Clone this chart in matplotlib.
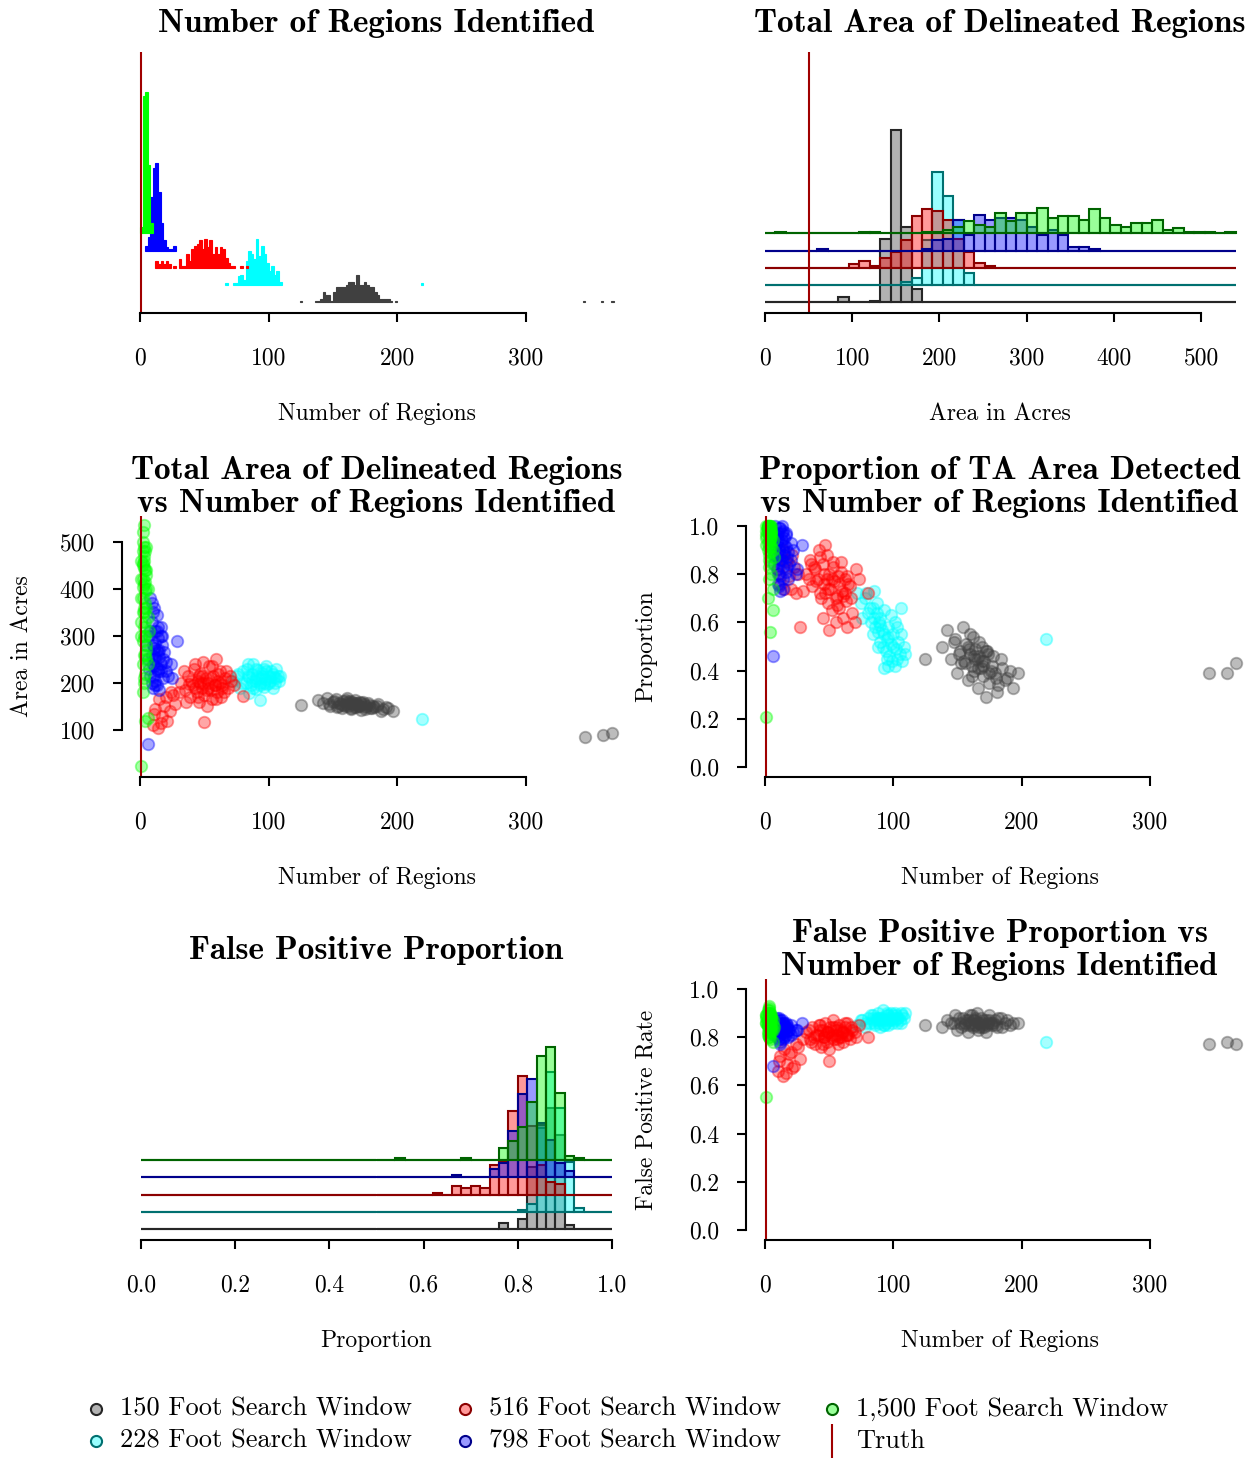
import numpy as np
import matplotlib
matplotlib.use("Agg")
import matplotlib.pyplot as plt
from matplotlib.lines import Line2D
from matplotlib.colors import to_rgba

plt.rcParams['font.family'] = 'cmr10'
plt.rcParams['axes.formatter.use_mathtext'] = True

# ---------------- data ----------------
windows = ["150 Foot Search Window", "228 Foot Search Window", "516 Foot Search Window",
           "798 Foot Search Window", "1,500 Foot Search Window"]
truth_n = 1
truth_area = 50

# histogram of number of regions (bin width 2, bin start -> count)
nreg_gray_bins = [124, 136, 138, 140, 142, 144, 146, 148, 150, 152, 154, 156, 158, 160, 162, 164, 166,
                  168, 170, 172, 174, 176, 178, 180, 182, 184, 186, 188, 190, 192, 194, 198, 344, 358, 366]
nreg_gray_counts = [1, 1, 1, 2, 6, 4, 4, 1, 6, 9, 9, 9, 9, 10, 12, 12, 10,
                    16, 10, 10, 12, 10, 9, 9, 6, 4, 2, 2, 2, 2, 1, 1, 1, 1, 1]
nreg_cyan_bins = [66, 72, 74, 76, 78, 80, 82, 84, 86, 88, 90, 92, 94, 96, 98, 100, 102, 104, 106, 108, 218]
nreg_cyan_counts = [1, 1, 1, 5, 6, 3, 14, 20, 18, 15, 27, 17, 23, 18, 13, 8, 11, 6, 8, 2, 1]
nreg_red_bins = [12, 14, 16, 18, 20, 22, 26, 30, 32, 34, 36, 38, 40, 42, 44, 46, 48, 50, 52, 54, 56,
                 58, 60, 62, 64, 66, 68, 70, 72, 78, 82]
nreg_red_counts = [4, 2, 4, 2, 4, 2, 1, 5, 1, 1, 8, 4, 11, 13, 14, 16, 11, 17, 12, 16, 8,
                   12, 8, 12, 11, 6, 3, 1, 1, 1, 1]
nreg_blue_bins = [4, 6, 8, 10, 12, 14, 16, 18, 20, 22, 24, 26]
nreg_blue_counts = [3, 8, 31, 48, 51, 34, 16, 6, 2, 1, 1, 3]
nreg_green_bins = [0, 2, 4, 6, 8]
nreg_green_counts = [4, 80, 82, 40, 6]

# histogram of total area (45 bins of 12 acres from 0)
area_gray = [0, 0, 0, 0, 0, 0, 0, 3, 0, 0, 1, 37, 100, 44, 8, 0, 0, 0, 0, 0, 0, 0, 0, 0, 0, 0, 0, 0, 0, 0,
             0, 0, 0, 0, 0, 0, 0, 0, 0, 0, 0, 0, 0, 0, 0]
area_cyan = [0, 0, 0, 0, 0, 0, 0, 0, 0, 0, 0, 0, 0, 2, 4, 26, 66, 52, 38, 7, 0, 0, 0, 0, 0, 0, 0, 0, 0, 0,
             0, 0, 0, 0, 0, 0, 0, 0, 0, 0, 0, 0, 0, 0, 0]
area_red = [0, 0, 0, 0, 0, 0, 0, 0, 2, 4, 1, 6, 9, 16, 30, 34, 33, 28, 17, 9, 3, 1, 0, 0, 0, 0, 0, 0, 0, 0,
            0, 0, 0, 0, 0, 0, 0, 0, 0, 0, 0, 0, 0, 0, 0]
area_blue = [0, 0, 0, 0, 0, 1, 0, 0, 0, 0, 0, 0, 0, 0, 0, 1, 6, 7, 18, 9, 21, 18, 19, 19, 18, 14, 9, 12, 9, 2,
             2, 1, 0, 0, 0, 0, 0, 0, 0, 0, 0, 0, 0, 0, 0]
area_green = [0, 1, 0, 0, 0, 0, 0, 0, 0, 1, 1, 0, 0, 0, 0, 1, 1, 2, 4, 7, 5, 4, 12, 7, 12, 12, 15, 9, 10, 10,
              8, 14, 9, 5, 4, 6, 6, 8, 2, 3, 1, 1, 1, 0, 1]

# histogram of false positive proportion (50 bins of 0.02 from 0)
fp_gray = [0, 0, 0, 0, 0, 0, 0, 0, 0, 0, 0, 0, 0, 0, 0, 0, 0, 0, 0, 0, 0, 0, 0, 0, 0,
           0, 0, 0, 0, 0, 0, 0, 0, 0, 0, 0, 0, 0, 3, 0, 5, 30, 50, 58, 45, 2, 0, 0, 0, 0]
fp_cyan = [0, 0, 0, 0, 0, 0, 0, 0, 0, 0, 0, 0, 0, 0, 0, 0, 0, 0, 0, 0, 0, 0, 0, 0, 0,
           0, 0, 0, 0, 0, 0, 0, 0, 0, 0, 0, 0, 0, 0, 0, 1, 4, 40, 67, 50, 24, 2, 0, 0, 0]
fp_red = [0, 0, 0, 0, 0, 0, 0, 0, 0, 0, 0, 0, 0, 0, 0, 0, 0, 0, 0, 0, 0, 0, 0, 0, 0,
          0, 0, 0, 0, 0, 0, 1, 0, 4, 3, 4, 3, 14, 16, 40, 57, 33, 14, 6, 5, 0, 0, 0, 0, 0]
fp_blue = [0, 0, 0, 0, 0, 0, 0, 0, 0, 0, 0, 0, 0, 0, 0, 0, 0, 0, 0, 0, 0, 0, 0, 0, 0,
           0, 0, 0, 0, 0, 0, 0, 0, 1, 0, 0, 0, 4, 7, 22, 40, 47, 26, 18, 7, 3, 0, 0, 0, 0]
fp_green = [0, 0, 0, 0, 0, 0, 0, 0, 0, 0, 0, 0, 0, 0, 0, 0, 0, 0, 0, 0, 0, 0, 0, 0, 0,
            0, 0, 1, 0, 0, 0, 0, 0, 0, 1, 0, 0, 0, 6, 9, 16, 28, 50, 54, 32, 2, 1, 0, 0, 0]

# per-run results: number of regions, total area, proportion detected, false positive rate
gray_n = [138, 142, 145, 148, 150, 152, 154, 155, 157, 158, 160, 161, 162, 163, 164, 165, 166, 167, 168, 169,
          170, 171, 172, 174, 175, 177, 179, 181, 184, 187, 191, 197, 125, 346, 360, 367,
          156, 159, 163, 166, 169, 172, 176, 180,
          147, 151, 153, 158, 161, 164, 167, 170, 173, 175, 178, 182, 185, 189, 193, 160]
gray_area = [163, 158, 168, 152, 160, 165, 150, 158, 147, 162, 155, 168, 150, 158, 145, 160, 153, 164, 148, 157,
             151, 160, 143, 155, 149, 158, 146, 152, 150, 141, 148, 140, 153, 86, 89, 93,
             155, 152, 161, 149, 154, 157, 151, 147,
             156, 162, 149, 153, 159, 146, 158, 152, 160, 145, 154, 148, 155, 144, 147, 164]
gray_prop = [0.50, 0.57, 0.45, 0.53, 0.39, 0.48, 0.58, 0.44, 0.51, 0.36, 0.47, 0.42, 0.54, 0.40, 0.49, 0.45,
             0.33, 0.46, 0.41, 0.50, 0.38, 0.44, 0.29, 0.47, 0.35, 0.42, 0.39, 0.31, 0.45, 0.36, 0.40, 0.39,
             0.45, 0.39, 0.39, 0.43, 0.43, 0.49, 0.46, 0.41, 0.44, 0.48, 0.40, 0.37,
             0.52, 0.47, 0.43, 0.50, 0.38, 0.45, 0.52, 0.42, 0.48, 0.39, 0.46, 0.34, 0.41, 0.37, 0.33, 0.55]
gray_fp = [0.84, 0.87, 0.86, 0.89, 0.83, 0.86, 0.88, 0.85, 0.87, 0.82, 0.86, 0.89, 0.84, 0.87, 0.85, 0.90,
           0.83, 0.86, 0.88, 0.85, 0.87, 0.84, 0.82, 0.86, 0.89, 0.85, 0.87, 0.84, 0.88, 0.86, 0.85, 0.86,
           0.85, 0.77, 0.78, 0.77, 0.86, 0.85, 0.87, 0.86, 0.84, 0.87, 0.86, 0.85,
           0.86, 0.88, 0.84, 0.87, 0.85, 0.88, 0.84, 0.86, 0.85, 0.87, 0.86, 0.88, 0.84, 0.87, 0.86, 0.89]

cyan_n = [72, 75, 78, 80, 82, 83, 85, 86, 87, 88, 89, 90, 91, 92, 93, 94, 95, 96, 97, 98,
          99, 100, 101, 102, 103, 104, 105, 106, 107, 108, 93, 85, 90, 96, 219,
          76, 79, 84, 87, 90, 93, 95, 98, 100, 103, 106, 109, 88, 96, 101, 84]
cyan_area = [205, 215, 190, 225, 200, 230, 212, 195, 220, 240, 205, 188, 215, 228, 200, 210, 222, 192, 208, 235,
             198, 215, 205, 225, 190, 212, 200, 230, 215, 205, 163, 178, 210, 200, 124,
             220, 200, 215, 205, 230, 195, 215, 225, 200, 220, 210, 215, 190, 230, 212, 240]
cyan_prop = [0.72, 0.68, 0.70, 0.64, 0.66, 0.60, 0.62, 0.58, 0.64, 0.56, 0.60, 0.52, 0.57, 0.50, 0.55, 0.48,
             0.53, 0.58, 0.46, 0.51, 0.44, 0.55, 0.42, 0.49, 0.45, 0.52, 0.47, 0.66, 0.44, 0.50,
             0.41, 0.73, 0.59, 0.54, 0.53,
             0.62, 0.72, 0.55, 0.68, 0.62, 0.65, 0.45, 0.63, 0.50, 0.58, 0.55, 0.47, 0.50, 0.42, 0.60, 0.66]
cyan_fp = [0.85, 0.87, 0.84, 0.88, 0.86, 0.89, 0.87, 0.85, 0.88, 0.90, 0.86, 0.84, 0.88, 0.91, 0.87, 0.86,
           0.89, 0.85, 0.87, 0.90, 0.86, 0.88, 0.87, 0.89, 0.86, 0.88, 0.87, 0.90, 0.89, 0.88,
           0.85, 0.86, 0.87, 0.88, 0.78,
           0.87, 0.86, 0.89, 0.87, 0.88, 0.85, 0.90, 0.87, 0.89, 0.88, 0.86, 0.90, 0.88, 0.89, 0.90, 0.88]

red_n = [32, 35, 37, 39, 41, 42, 44, 45, 46, 47, 48, 49, 50, 51, 52, 53, 54, 55, 56, 57,
         58, 59, 60, 61, 62, 63, 64, 66, 68, 71, 10, 12, 14, 15, 17, 19, 21, 24, 27, 50, 80,
         40, 43, 46, 49, 52, 55, 58, 61, 64, 38,
         30, 34, 36, 43, 45, 48, 53, 56, 59, 62, 65, 67, 70, 73, 11, 16, 20, 23, 26, 47]
red_area = [200, 185, 215, 170, 195, 230, 180, 205, 160, 220, 190, 245, 175, 210, 150, 200, 235, 185, 165, 215,
            195, 250, 180, 205, 225, 170, 195, 210, 190, 205, 110, 145, 105, 165, 130, 150, 120, 180, 155, 118,
            172, 205, 190, 215, 200, 185, 210, 195, 220, 190, 198,
            180, 225, 160, 240, 170, 215, 190, 235, 165, 200, 180, 225, 215, 195, 135, 115, 170, 140, 175, 200]
red_prop = [0.80, 0.86, 0.75, 0.82, 0.78, 0.90, 0.70, 0.84, 0.76, 0.72, 0.88, 0.68, 0.80, 0.74, 0.65, 0.83,
            0.77, 0.60, 0.71, 0.79, 0.66, 0.85, 0.73, 0.62, 0.78, 0.69, 0.58, 0.75, 0.64, 0.82,
            0.82, 0.76, 0.90, 0.74, 0.85, 0.79, 0.88, 0.72, 0.58, 0.57, 0.72,
            0.77, 0.72, 0.80, 0.74, 0.78, 0.70, 0.76, 0.71, 0.79, 0.83,
            0.73, 0.78, 0.84, 0.87, 0.62, 0.78, 0.85, 0.67, 0.81, 0.72, 0.76, 0.70, 0.60, 0.78,
            0.80, 0.86, 0.74, 0.83, 0.80, 0.92]
red_fp = [0.82, 0.79, 0.84, 0.77, 0.81, 0.85, 0.76, 0.83, 0.80, 0.86, 0.78, 0.82, 0.75, 0.84, 0.80, 0.87,
          0.79, 0.83, 0.81, 0.77, 0.85, 0.80, 0.82, 0.78, 0.84, 0.81, 0.86, 0.79, 0.83, 0.80,
          0.66, 0.72, 0.64, 0.75, 0.69, 0.73, 0.67, 0.77, 0.71, 0.70, 0.80,
          0.81, 0.83, 0.80, 0.82, 0.81, 0.84, 0.80, 0.82, 0.81, 0.80,
          0.79, 0.83, 0.78, 0.85, 0.77, 0.82, 0.84, 0.79, 0.83, 0.86, 0.81, 0.84, 0.82, 0.85,
          0.70, 0.65, 0.74, 0.68, 0.76, 0.81]

blue_n = [6, 7, 8, 9, 9, 10, 10, 11, 11, 12, 12, 13, 13, 14, 14, 15, 15, 16, 16, 17,
          18, 19, 20, 22, 25, 29, 8, 12, 15, 6, 10, 12, 13, 11, 14, 16,
          5, 7, 8, 9, 10, 11, 12, 13, 14, 15, 16, 17, 18, 9, 11, 13, 20, 24]
blue_area = [250, 300, 215, 330, 260, 190, 280, 360, 235, 310, 205, 270, 345, 225, 295, 185, 255, 320, 240, 280,
             210, 265, 245, 215, 210, 290, 380, 195, 230, 70, 240, 255, 230, 275, 265, 300,
             280, 230, 310, 200, 350, 215, 285, 195, 320, 270, 225, 300, 250, 370, 250, 310, 225, 240]
blue_prop = [0.95, 0.88, 1.00, 0.82, 0.93, 0.76, 0.97, 0.85, 0.90, 0.99, 0.79, 0.92, 0.86, 0.98, 0.74, 0.89,
             0.95, 0.81, 0.91, 0.87, 0.78, 0.84, 0.93, 0.90, 0.82, 0.92, 0.96, 0.73, 0.88, 0.46,
             0.94, 0.86, 0.97, 0.91, 0.83, 0.96,
             0.98, 0.84, 0.92, 0.96, 0.80, 0.99, 0.88, 0.94, 0.78, 0.92, 0.97, 0.83, 0.89, 0.87, 0.75, 1.00,
             0.86, 0.80]
blue_fp = [0.84, 0.86, 0.82, 0.87, 0.80, 0.85, 0.83, 0.88, 0.81, 0.86, 0.78, 0.84, 0.87, 0.82, 0.79, 0.85,
           0.83, 0.86, 0.81, 0.84, 0.80, 0.83, 0.85, 0.82, 0.83, 0.86, 0.84, 0.77, 0.80, 0.68,
           0.83, 0.85, 0.84, 0.82, 0.86, 0.84,
           0.85, 0.81, 0.84, 0.86, 0.82, 0.85, 0.87, 0.80, 0.84, 0.86, 0.82, 0.85, 0.83, 0.88, 0.79, 0.84,
           0.81, 0.83]

green_n = [1, 1, 2, 2, 2, 2, 3, 3, 3, 3, 3, 4, 4, 4, 4, 5, 5, 5, 6, 6,
           7, 2, 3, 4, 1, 4, 6, 3, 5, 2, 2, 3, 4, 3, 2, 5,
           1, 2, 3, 4, 5, 1, 2, 3, 4, 5, 6, 2, 3, 1, 4, 3, 2, 5]
green_area = [420, 330, 500, 380, 290, 455, 536, 410, 350, 260, 470, 440, 300, 395, 220, 360, 430, 270, 340, 240,
              310, 180, 490, 370, 23, 120, 125, 210, 400, 450, 480, 320, 415, 460, 350, 280,
              380, 420, 300, 480, 250, 460, 240, 445, 330, 490, 400, 520, 360, 300, 260, 200, 405, 440]
green_prop = [0.98, 0.95, 1.00, 0.90, 0.99, 0.93, 1.00, 0.96, 0.88, 0.97, 0.99, 0.94, 0.85, 1.00, 0.92, 0.96,
              0.80, 0.98, 0.90, 0.74, 0.87, 0.70, 0.97, 0.99, 0.21, 0.56, 0.65, 0.78, 0.95, 1.00,
              1.00, 0.98, 0.97, 0.94, 0.99, 0.91,
              1.00, 0.97, 0.99, 0.95, 1.00, 0.92, 0.98, 0.86, 1.00, 0.97, 0.94, 0.99, 0.91, 0.96, 0.89, 0.83,
              1.00, 0.98]
green_fp = [0.86, 0.89, 0.84, 0.91, 0.82, 0.88, 0.85, 0.90, 0.87, 0.80, 0.93, 0.86, 0.83, 0.89, 0.79, 0.88,
            0.85, 0.82, 0.87, 0.78, 0.84, 0.81, 0.90, 0.86, 0.55, 0.84, 0.83, 0.80, 0.88, 0.85,
            0.87, 0.85, 0.90, 0.86, 0.88, 0.83,
            0.88, 0.85, 0.91, 0.87, 0.84, 0.89, 0.86, 0.92, 0.83, 0.87, 0.85, 0.90, 0.82, 0.86, 0.88, 0.84,
            0.87, 0.89]

# ---------------- styling ----------------
base = ['#404040', '#00FFFF', '#FF0000', '#0000FF', '#00FF00']
edge = ['#262626', '#007070', '#8B0000', '#00008B', '#006400']
truth_col = '#A00000'

W, H = 1253, 1458
fig = plt.figure(figsize=(W / 100, H / 100), dpi=100)


def add_ax(x0, y0, x1, y1):
    return fig.add_axes([x0 / W, 1 - y1 / H, (x1 - x0) / W, (y1 - y0) / H])


def r_axes(ax, xt, xl, yt=None, yl=None):
    ax.patch.set_alpha(0)
    for s in ['top', 'right']:
        ax.spines[s].set_visible(False)
    ax.set_xticks(xt, xl)
    ax.spines['bottom'].set_bounds(xt[0], xt[-1])
    ax.spines['bottom'].set_linewidth(1.5)
    if yt is None:
        ax.spines['left'].set_visible(False)
        ax.set_yticks([])
    else:
        ax.set_yticks(yt, yl)
        ax.spines['left'].set_bounds(yt[0], yt[-1])
        ax.spines['left'].set_linewidth(1.5)
    ax.tick_params(direction='out', length=6.5, width=1.5, labelsize=17, pad=13)
    ax.tick_params(axis='x', pad=18)


def title(ax, text, h):
    ax.text(0.5, 1 + 29 / h, text, transform=ax.transAxes, ha='center', va='center',
            fontsize=24, family='cmb10', linespacing=1.18)


def xlabel(ax, text, h):
    ax.set_xlabel(text, fontsize=17)
    ax.xaxis.set_label_coords(0.5, -101 / h)
    ax.xaxis.label.set_va('center')


def ylabel(ax, text, w):
    ax.set_ylabel(text, fontsize=17)
    ax.yaxis.set_label_coords(-100 / w, 0.5)
    ax.yaxis.label.set_va('center')


def scatter(ax, x, y, col):
    ax.plot(x, y, 'o', ls='none', ms=8.3, mew=1.3,
            mfc=to_rgba(col, 0.35), mec=to_rgba(col, 0.4))


def offset_hist(ax, starts, counts, width, step):
    for i in range(5):
        ax.hlines(step * i, starts[0], starts[-1] + width, color=edge[i], lw=1.5)
        ax.bar(starts, counts[i], width=width, bottom=step * i, align='edge',
               facecolor=to_rgba(base[i], 0.4), edgecolor=edge[i], linewidth=1.5)


n_ticks = [0, 100, 200, 300]
n_labels = ['0', '100', '200', '300']

# ---- panel 1: number of regions histogram ----
ax1 = add_ax(122, 52, 631, 313)
nreg_bins = [nreg_gray_bins, nreg_cyan_bins, nreg_red_bins, nreg_blue_bins, nreg_green_bins]
nreg_counts = [nreg_gray_counts, nreg_cyan_counts, nreg_red_counts, nreg_blue_counts, nreg_green_counts]
for i in range(5):
    ax1.bar(nreg_bins[i], nreg_counts[i], width=2, bottom=10 * i, align='edge',
            color=base[i], edgecolor=base[i], linewidth=0.8)
ax1.axvline(truth_n, color=truth_col, lw=1.5)
ax1.set_xlim(-14.0, 381.6)
ax1.set_ylim(-6.22, 145.5)
r_axes(ax1, n_ticks, n_labels)
title(ax1, "Number of Regions Identified", 261)
xlabel(ax1, "Number of Regions", 261)

# ---- panel 2: total area histogram ----
ax2 = add_ax(746, 52, 1253, 313)
area_starts = np.arange(45) * 12
offset_hist(ax2, area_starts, [area_gray, area_cyan, area_red, area_blue, area_green], 12, 10)
ax2.axvline(truth_area, color=truth_col, lw=1.5)
ax2.set_xlim(-21.8, 559.6)
ax2.set_ylim(-6.22, 145.5)
r_axes(ax2, [0, 100, 200, 300, 400, 500], ['0', '100', '200', '300', '400', '500'])
title(ax2, "Total Area of Delineated Regions", 261)
xlabel(ax2, "Area in Acres", 261)

# ---- scatter panels ----
ns = [gray_n, cyan_n, red_n, blue_n, green_n]
areas = [gray_area, cyan_area, red_area, blue_area, green_area]
props = [gray_prop, cyan_prop, red_prop, blue_prop, green_prop]
fps = [gray_fp, cyan_fp, red_fp, blue_fp, green_fp]

ax3 = add_ax(122, 516, 631, 777)
for i in range(5):
    scatter(ax3, ns[i], areas[i], base[i])
ax3.axvline(truth_n, color=truth_col, lw=1.5)
ax3.set_xlim(-14.0, 381.6)
ax3.set_ylim(0, 555)
r_axes(ax3, n_ticks, n_labels, [100, 200, 300, 400, 500], ['100', '200', '300', '400', '500'])
title(ax3, "Total Area of Delineated Regions\nvs Number of Regions Identified", 261)
xlabel(ax3, "Number of Regions", 261)
ylabel(ax3, "Area in Acres", 509)

p_ticks = [0, 0.2, 0.4, 0.6, 0.8, 1.0]
p_labels = ['0.0', '0.2', '0.4', '0.6', '0.8', '1.0']

ax4 = add_ax(746, 516, 1253, 777)
for i in range(5):
    scatter(ax4, ns[i], props[i], base[i])
ax4.axvline(truth_n, color=truth_col, lw=1.5)
ax4.set_xlim(-14.8, 380.4)
ax4.set_ylim(-0.04, 1.04)
r_axes(ax4, n_ticks, n_labels, p_ticks, p_labels)
title(ax4, "Proportion of TA Area Detected\nvs Number of Regions Identified", 261)
xlabel(ax4, "Number of Regions", 261)
ylabel(ax4, "Proportion", 507)

# ---- panel 5: false positive proportion histogram ----
ax5 = add_ax(122, 979, 631, 1240)
fp_starts = np.arange(50) * 0.02
offset_hist(ax5, fp_starts, [fp_gray, fp_cyan, fp_red, fp_blue, fp_green], 0.02, 8.28)
ax5.set_xlim(-0.0403, 1.0403)
ax5.set_ylim(-5.12, 119.8)
r_axes(ax5, p_ticks, p_labels)
title(ax5, "False Positive Proportion", 261)
xlabel(ax5, "Proportion", 261)

# ---- panel 6: false positive vs number of regions ----
ax6 = add_ax(746, 979, 1253, 1240)
for i in range(5):
    scatter(ax6, ns[i], fps[i], base[i])
ax6.axvline(truth_n, color=truth_col, lw=1.5)
ax6.set_xlim(-14.8, 380.4)
ax6.set_ylim(-0.04, 1.04)
r_axes(ax6, n_ticks, n_labels, p_ticks, p_labels)
title(ax6, "False Positive Proportion vs\nNumber of Regions Identified", 261)
xlabel(ax6, "Number of Regions", 261)
ylabel(ax6, "False Positive Rate", 507)

# ---- legend ----
legend_pos = [(96, 1409), (96, 1441), (465, 1409), (465, 1441), (832, 1409)]
for i, (x, y) in enumerate(legend_pos):
    fig.add_artist(Line2D([x / W], [1 - y / H], transform=fig.transFigure, marker='o', ls='none',
                          ms=8, mfc=to_rgba(base[i], 0.4), mec=edge[i], mew=1.5))
    fig.text((x + 24) / W, 1 - y / H, windows[i], ha='left', va='center', fontsize=19)
fig.add_artist(Line2D([832 / W], [1 - 1441 / H], transform=fig.transFigure, marker='|', ls='none',
                      ms=25, mec=truth_col, mew=1.5))
fig.text(856 / W, 1 - 1441 / H, "Truth", ha='left', va='center', fontsize=19)

fig.savefig("out.png", dpi=100)
